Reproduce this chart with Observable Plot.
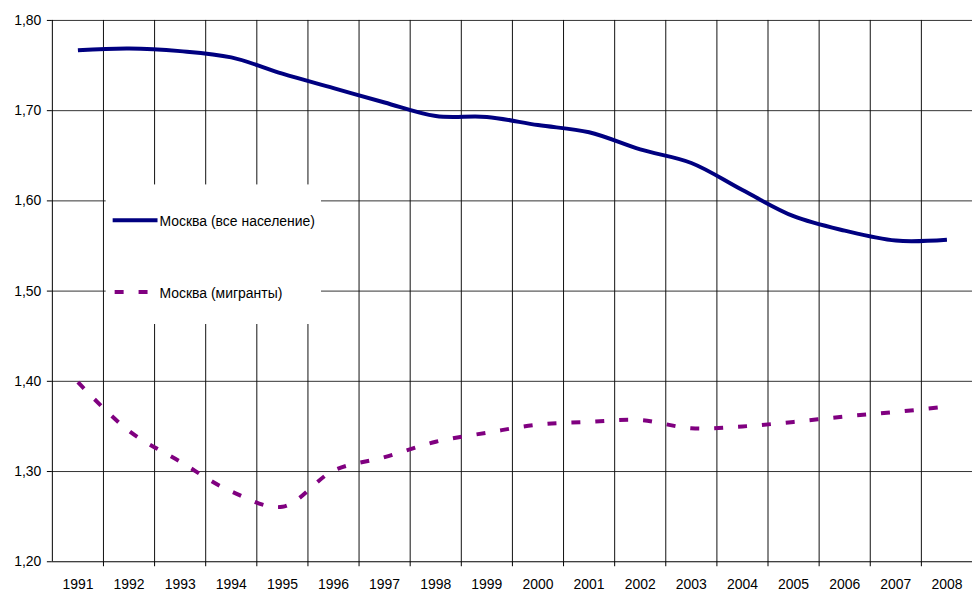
<!DOCTYPE html>
<html>
<head>
<meta charset="utf-8">
<script src="https://cdn.jsdelivr.net/npm/d3@7"></script>
<script src="https://cdn.jsdelivr.net/npm/@observablehq/plot@0.6"></script>
<style>
  html, body { margin: 0; padding: 0; background: #fff; overflow: hidden; }
</style>
</head>
<body>
<div id="chart"></div>
<script>
const years = [1991, 1992, 1993, 1994, 1995, 1996, 1997, 1998, 1999, 2000, 2001, 2002, 2003, 2004, 2005, 2006, 2007, 2008];
const moscowAll = [1.767, 1.769, 1.766, 1.759, 1.741, 1.725, 1.709, 1.694, 1.693, 1.684, 1.676, 1.657, 1.642, 1.612, 1.583, 1.567, 1.556, 1.557];
const moscowMigrants = [1.399, 1.345, 1.311, 1.278, 1.261, 1.301, 1.316, 1.333, 1.343, 1.352, 1.355, 1.357, 1.348, 1.350, 1.355, 1.361, 1.366, 1.372];
const yTicks = [1.2, 1.3, 1.4, 1.5, 1.6, 1.7, 1.8];
const seriesNames = ["Москва (все население)", "Москва (мигранты)"];

const allData = years.map((year, i) => ({year, value: moscowAll[i]}));
const migData = years.map((year, i) => ({year, value: moscowMigrants[i]}));
const boundaries = years.slice(1).map(y => y - 0.5);
const fmt = d => d.toFixed(2).replace(".", ",");

const chart = Plot.plot({
  width: 975,
  height: 591,
  marginLeft: 52,
  marginRight: 0,
  marginTop: 20,
  marginBottom: 28,
  style: {fontFamily: "Liberation Sans, Arial, sans-serif", fontSize: "14px", color: "#000", background: "#fff", overflow: "visible"},
  x: {domain: [years[0] - 0.5, years[years.length - 1] + 0.5]},
  y: {domain: [yTicks[0], yTicks[yTicks.length - 1]]},
  marks: [
    Plot.ruleY(yTicks.slice(1), {stroke: "#333", strokeWidth: 1}),
    Plot.ruleX(boundaries, {y1: yTicks[0], y2: yTicks[yTicks.length - 1], stroke: "#111", strokeWidth: 1}),
    Plot.axisY(yTicks, {tickSize: 5, tickPadding: 6, tickFormat: fmt, label: null, stroke: "#000", fill: "#000", fontSize: 14}),
    Plot.axisX(boundaries, {tickSize: 5, tickFormat: () => "", label: null, stroke: "#000"}),
    Plot.axisX(years, {tickSize: 0, tickPadding: 17, tickFormat: d => String(d), label: null, fill: "#000", fontSize: 14}),
    Plot.ruleX([years[0] - 0.5], {y1: yTicks[0], y2: yTicks[yTicks.length - 1], stroke: "#000"}),
    Plot.ruleY([yTicks[0]], {stroke: "#000"}),
    Plot.line(allData, {x: "year", y: "value", stroke: "#000080", strokeWidth: 4, strokeLinecap: "butt", curve: "catmull-rom"}),
    Plot.line(migData, {x: "year", y: "value", stroke: "#800080", strokeWidth: 4, strokeLinecap: "butt", strokeDasharray: "9,15", curve: "catmull-rom"})
  ]
});
document.getElementById("chart").appendChild(chart);

// Legend box
const svg = d3.select(chart);
const lg = svg.append("g")
  .style("font-family", "Liberation Sans, Arial, sans-serif")
  .style("font-size", "14px")
  .attr("text-anchor", "start");
lg.append("rect").attr("x", 106).attr("y", 185).attr("width", 216).attr("height", 140).attr("fill", "#fff");
lg.append("line").attr("x1", 113).attr("x2", 158).attr("y1", 221).attr("y2", 221)
  .attr("stroke", "#000080").attr("stroke-width", 4);
lg.append("text").attr("x", 160).attr("y", 226.5).attr("fill", "#000").style("text-anchor", "start").text(seriesNames[0]);
lg.append("line").attr("x1", 115).attr("x2", 148).attr("y1", 293).attr("y2", 293)
  .attr("stroke", "#800080").attr("stroke-width", 4).attr("stroke-dasharray", "9,15");
lg.append("text").attr("x", 160).attr("y", 299).attr("fill", "#000").style("text-anchor", "start").text(seriesNames[1]);
</script>
</body>
</html>
